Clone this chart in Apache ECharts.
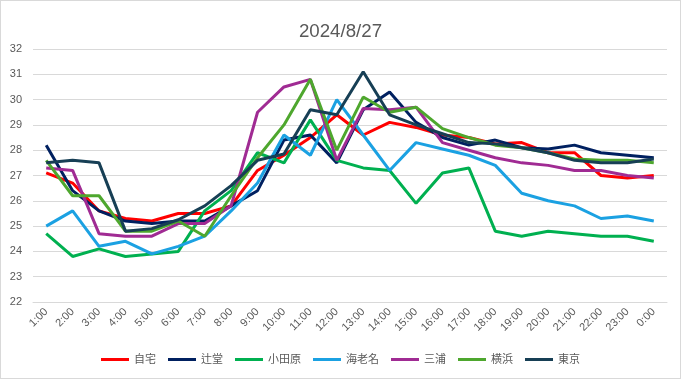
<!DOCTYPE html>
<html>
<head>
<meta charset="utf-8">
<script src="https://cdn.jsdelivr.net/npm/echarts@6/dist/echarts.min.js"></script>
<style>
html,body{margin:0;padding:0;background:#fff;}
#c{width:681px;height:379px;box-sizing:border-box;border:1px solid #d9d9d9;}
</style>
</head>
<body>
<div id="c"></div>
<script>
const title = "2024/8/27";
const hours = ["1:00","2:00","3:00","4:00","5:00","6:00","7:00","8:00","9:00","10:00","11:00","12:00","13:00","14:00","15:00","16:00","17:00","18:00","19:00","20:00","21:00","22:00","23:00","0:00"];
const seriesNames = ["自宅","辻堂","小田原","海老名","三浦","横浜","東京"];
const jitaku   = [27.1,26.7,25.6,25.3,25.2,25.5,25.5,25.8,27.2,27.8,28.5,29.4,28.6,29.1,28.9,28.6,28.5,28.25,28.3,27.9,27.9,27.0,26.9,27.0];
const tsujido  = [28.2,26.4,25.6,25.2,25.1,25.2,25.2,25.8,26.4,28.4,28.6,27.5,29.6,30.3,29.1,28.5,28.2,28.4,28.1,28.05,28.2,27.9,27.8,27.7];
const odawara  = [24.7,23.8,24.1,23.8,23.9,24.0,25.6,26.4,27.9,27.5,29.2,27.6,27.3,27.2,25.9,27.1,27.3,24.8,24.6,24.8,24.7,24.6,24.6,24.4];
const ebina    = [25.0,25.6,24.2,24.4,23.9,24.2,24.6,25.6,26.7,28.6,27.8,30.0,28.6,27.2,28.3,28.05,27.8,27.4,26.3,26.0,25.8,25.3,25.4,25.2];
const miura    = [27.3,27.2,24.7,24.6,24.6,25.1,25.1,25.8,29.5,30.5,30.8,27.6,29.65,29.6,29.7,28.3,28.0,27.7,27.5,27.4,27.2,27.2,27.0,26.9];
const yokohama = [27.6,26.2,26.2,24.8,24.8,25.2,24.6,26.2,27.7,29.0,30.8,28.0,30.1,29.5,29.7,28.85,28.5,28.2,28.1,27.9,27.65,27.6,27.6,27.5];
const tokyo    = [27.5,27.6,27.5,24.8,24.9,25.25,25.8,26.6,27.6,27.85,29.6,29.4,31.1,29.4,29.0,28.65,28.3,28.25,28.1,27.9,27.6,27.5,27.5,27.65];
const allData = [jitaku,tsujido,odawara,ebina,miura,yokohama,tokyo];
const colors = ["#FF0000","#002060","#00B050","#1BA1E2","#A02B93","#4EA72E","#173F55"];

const font = '"Liberation Sans","Noto Sans CJK JP",sans-serif';
const chart = echarts.init(document.getElementById('c'));
chart.setOption({
  animation:false,
  textStyle:{fontFamily:font},
  title:{text:title,left:'center',top:17,textStyle:{fontSize:18.7,fontWeight:'normal',color:'#595959',fontFamily:font}},
  grid:{left:32,right:13,top:48,bottom:76,containLabel:false},
  legend:{
    data:seriesNames,bottom:8,left:'center',icon:'rect',itemWidth:28,itemHeight:3,itemGap:12,
    textStyle:{fontSize:11,color:'#595959',fontFamily:font}
  },
  xAxis:{
    type:'category',data:hours,boundaryGap:true,
    axisLine:{lineStyle:{color:'#d9d9d9'}},axisTick:{show:false},
    axisLabel:{rotate:45,fontSize:11,color:'#595959',margin:8,interval:0,fontFamily:font}
  },
  yAxis:{
    type:'value',min:22,max:32,interval:1,
    axisLine:{show:false},axisTick:{show:false},
    splitLine:{lineStyle:{color:'#d9d9d9',width:1}},
    axisLabel:{fontSize:11,color:'#595959',margin:11,fontFamily:font}
  },
  series: seriesNames.map((n,i)=>({
    name:n,type:'line',data:allData[i],symbol:'none',
    lineStyle:{width:3,color:colors[i]},itemStyle:{color:colors[i]}
  }))
});
</script>
</body>
</html>
